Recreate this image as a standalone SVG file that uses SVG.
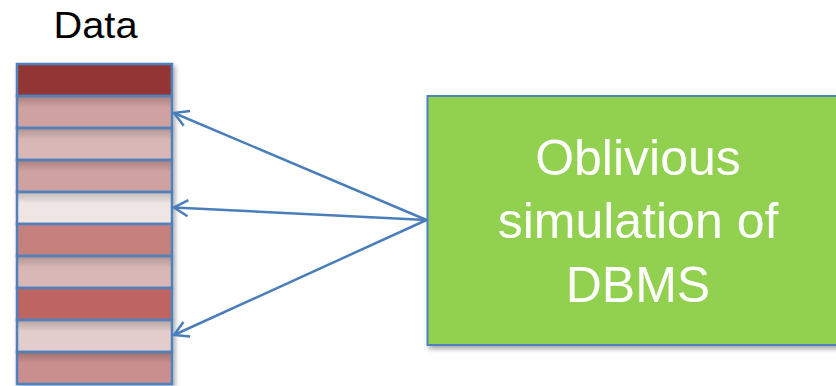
<svg xmlns="http://www.w3.org/2000/svg" width="836" height="386" viewBox="0 0 836 386">
<style>
.row{stroke:#4F81BD;stroke-width:2.5}
.conn{stroke:#4A7EBB;stroke-width:2.5;fill:none;marker-end:url(#arr)}
.lbl{font-family:"Liberation Sans",Arial,sans-serif;text-anchor:middle}
</style>
<defs>
<marker id="arr" viewBox="0 0 20 20" refX="18" refY="10" markerWidth="20" markerHeight="20" markerUnits="userSpaceOnUse" orient="auto">
<path d="M4,2 L18,10 L4,18" fill="none" stroke="#4A7EBB" stroke-width="2.5"/>
</marker>
<linearGradient id="sh" x1="0" y1="0" x2="0" y2="1">
<stop offset="0" stop-color="#000" stop-opacity="0.18"/>
<stop offset="0.35" stop-color="#000" stop-opacity="0"/>
</linearGradient>
<filter id="ds" x="-10%" y="-10%" width="130%" height="130%">
<feGaussianBlur in="SourceAlpha" stdDeviation="2.5"/>
<feOffset dx="2" dy="3"/>
<feComponentTransfer><feFuncA type="linear" slope="0.35"/></feComponentTransfer>
<feMerge><feMergeNode/><feMergeNode in="SourceGraphic"/></feMerge>
</filter>
</defs>
<rect width="836" height="386" fill="#fff"/>
<g id="data">
<text class="lbl" x="95.5" y="38" font-size="37" fill="#000" textLength="84" lengthAdjust="spacingAndGlyphs">Data</text>
<g filter="url(#ds)">
<rect class="row" x="17" y="64" width="155" height="32" fill="#943634"/>
<rect class="row" x="17" y="96" width="155" height="32" fill="#CFA1A0"/>
<rect class="row" x="17" y="128" width="155" height="32" fill="#D8B7B6"/>
<rect class="row" x="17" y="160" width="155" height="32" fill="#CFA1A0"/>
<rect class="row" x="17" y="192" width="155" height="32" fill="#F0E5E5"/>
<rect class="row" x="17" y="224" width="155" height="32" fill="#C5807E"/>
<rect class="row" x="17" y="256" width="155" height="32" fill="#D8B7B6"/>
<rect class="row" x="17" y="288" width="155" height="32" fill="#BE6562"/>
<rect class="row" x="17" y="320" width="155" height="32" fill="#E2CCCC"/>
<rect class="row" x="17" y="352" width="155" height="32" fill="#C98F8E"/>
</g>
<g fill="url(#sh)">
<rect x="18" y="97" width="153" height="30"/>
<rect x="18" y="129" width="153" height="30"/>
<rect x="18" y="161" width="153" height="30"/>
<rect x="18" y="193" width="153" height="30"/>
<rect x="18" y="257" width="153" height="30"/>
<rect x="18" y="321" width="153" height="30"/>
<rect x="18" y="353" width="153" height="30"/>
</g>
</g>
<g id="dbms">
<rect x="427.5" y="96" width="420" height="249" fill="#92D050" stroke="#4F81BD" stroke-width="2" filter="url(#ds)"/>
<text class="lbl" font-size="50" fill="#fff"><tspan x="638" y="175">Oblivious</tspan><tspan x="638" y="238">simulation of</tspan><tspan x="638" y="302">DBMS</tspan></text>
</g>
<g id="connectors">
<line class="conn" x1="426.5" y1="220" x2="174" y2="113"/>
<line class="conn" x1="426.5" y1="220" x2="174" y2="207.5"/>
<line class="conn" x1="426.5" y1="220" x2="174" y2="335"/>
</g>
</svg>
